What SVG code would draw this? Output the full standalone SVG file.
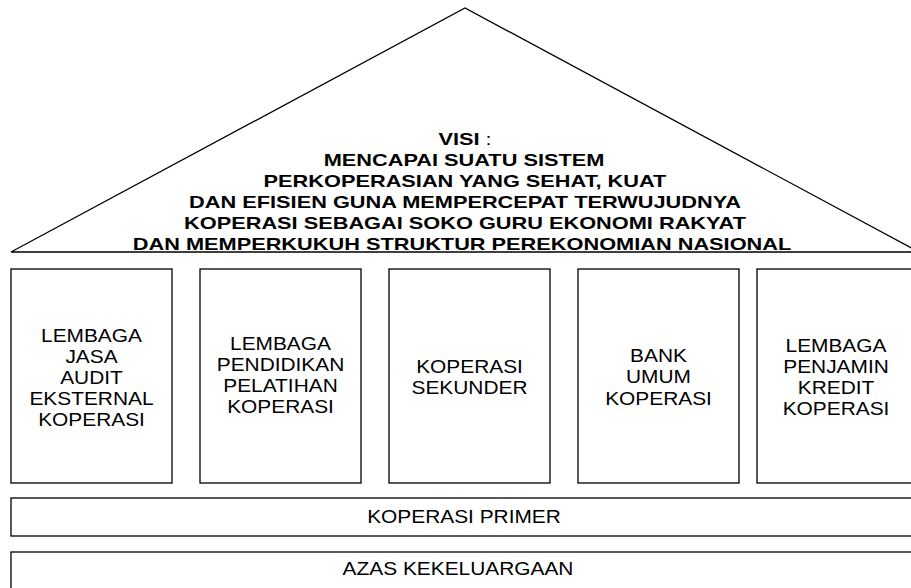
<svg xmlns="http://www.w3.org/2000/svg" width="911" height="588" viewBox="0 0 911 588">
<style>
.sh{fill:#fff;stroke:#000;stroke-width:1.3}
.t{font-family:"Liberation Sans",Arial,sans-serif;font-size:18px;text-anchor:middle;fill:#000}
.b{font-weight:bold;font-size:17px}
</style>
<rect width="911" height="588" fill="#fff"/>
<g id="roof">
<polygon class="sh" points="11,252 465,8 919,252"/>
<text class="t b" transform="translate(465,145) scale(1.28,1)">VISI<tspan font-weight="normal"> :</tspan></text>
<text class="t b" transform="translate(464,166) scale(1.28,1)">MENCAPAI SUATU SISTEM</text>
<text class="t b" transform="translate(465,187) scale(1.28,1)">PERKOPERASIAN YANG SEHAT, KUAT</text>
<text class="t b" transform="translate(465,208) scale(1.28,1)">DAN EFISIEN GUNA MEMPERCEPAT TERWUJUDNYA</text>
<text class="t b" transform="translate(465,229) scale(1.28,1)">KOPERASI SEBAGAI SOKO GURU EKONOMI RAKYAT</text>
<text class="t b" transform="translate(462,250) scale(1.28,1)">DAN MEMPERKUKUH STRUKTUR PEREKONOMIAN NASIONAL</text>
</g>
<g id="pillar1">
<rect class="sh" x="11" y="269" width="161" height="214"/>
<text class="t" transform="translate(91.5,342) scale(1.16,1)">LEMBAGA</text>
<text class="t" transform="translate(91.5,363) scale(1.16,1)">JASA</text>
<text class="t" transform="translate(91.5,384) scale(1.16,1)">AUDIT</text>
<text class="t" transform="translate(91.5,405) scale(1.16,1)">EKSTERNAL</text>
<text class="t" transform="translate(91.5,426) scale(1.16,1)">KOPERASI</text>
</g>
<g id="pillar2">
<rect class="sh" x="200" y="269" width="161" height="214"/>
<text class="t" transform="translate(280.5,350) scale(1.16,1)">LEMBAGA</text>
<text class="t" transform="translate(280.5,371) scale(1.16,1)">PENDIDIKAN</text>
<text class="t" transform="translate(280.5,392) scale(1.16,1)">PELATIHAN</text>
<text class="t" transform="translate(280.5,413) scale(1.16,1)">KOPERASI</text>
</g>
<g id="pillar3">
<rect class="sh" x="389" y="269" width="161" height="214"/>
<text class="t" transform="translate(469.5,373) scale(1.16,1)">KOPERASI</text>
<text class="t" transform="translate(469.5,394) scale(1.16,1)">SEKUNDER</text>
</g>
<g id="pillar4">
<rect class="sh" x="578" y="269" width="161" height="214"/>
<text class="t" transform="translate(658.5,362) scale(1.16,1)">BANK</text>
<text class="t" transform="translate(658.5,383) scale(1.16,1)">UMUM</text>
<text class="t" transform="translate(658.5,405) scale(1.16,1)">KOPERASI</text>
</g>
<g id="pillar5">
<rect class="sh" x="757" y="269" width="170" height="214"/>
<text class="t" transform="translate(836,352) scale(1.16,1)">LEMBAGA</text>
<text class="t" transform="translate(836,373) scale(1.16,1)">PENJAMIN</text>
<text class="t" transform="translate(836,394) scale(1.16,1)">KREDIT</text>
<text class="t" transform="translate(836,415) scale(1.16,1)">KOPERASI</text>
</g>
<g id="primer">
<rect class="sh" x="11" y="498" width="920" height="38"/>
<text class="t" transform="translate(464,523) scale(1.16,1)">KOPERASI PRIMER</text>
</g>
<g id="azas">
<rect class="sh" x="11" y="552" width="920" height="50"/>
<text class="t" transform="translate(458,575) scale(1.16,1)">AZAS KEKELUARGAAN</text>
</g>
<g id="connectors"></g>
</svg>
